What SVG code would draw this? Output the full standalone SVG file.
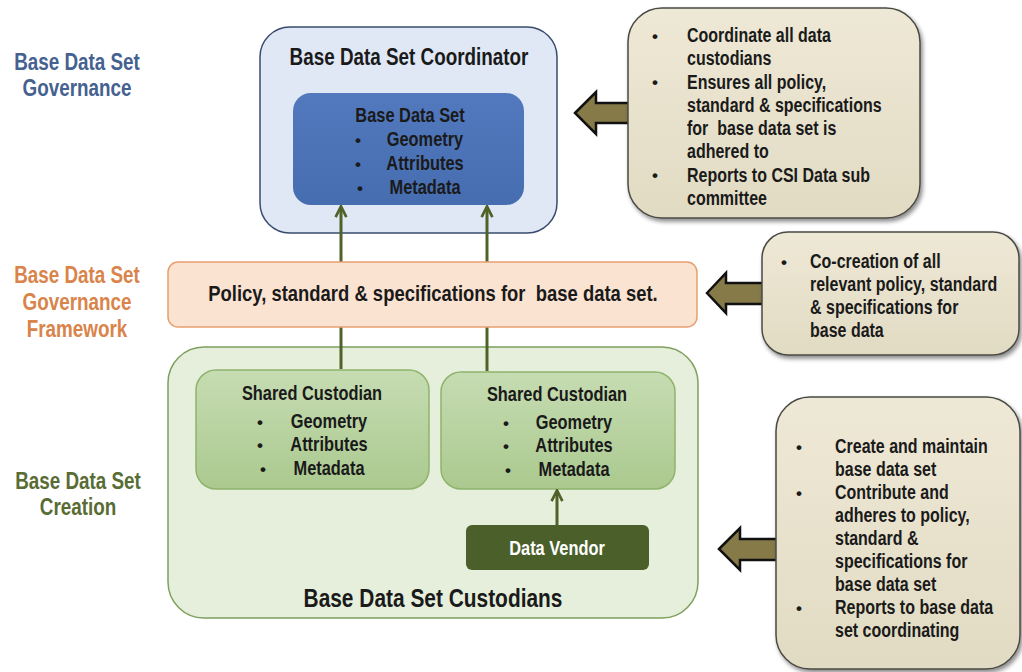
<svg xmlns="http://www.w3.org/2000/svg" width="1022" height="672" viewBox="0 0 1022 672">
<defs>
<style>
text{font-family:"Liberation Sans",Arial,sans-serif;font-weight:bold;fill:#1a1a1a}
.c{text-anchor:middle}
.f23{font-size:23px}
.f20{font-size:20px}
.f19{font-size:19.5px}
.bul{font-size:17px}
.cw{fill:#ffffff}
.gov{fill:#44618f}
.fw{fill:#d9844a}
.cre{fill:#586c34}
.conn{stroke:#4f6228;stroke-width:3;fill:none}
.blk{fill:#857a48;stroke:#111;stroke-width:2.5;stroke-linejoin:miter}
.call{fill:url(#gBeige);stroke:#4a4a44;stroke-width:1.5}
</style>
<linearGradient id="gBeige" x1="0" y1="0" x2="0" y2="1">
<stop offset="0" stop-color="#eee8d6"/>
<stop offset="1" stop-color="#e2dbc3"/>
</linearGradient>
<linearGradient id="gGreen" x1="0" y1="0" x2="0" y2="1">
<stop offset="0" stop-color="#c6dcb2"/>
<stop offset="1" stop-color="#abc98f"/>
</linearGradient>
<linearGradient id="gBlue" x1="0" y1="0" x2="0" y2="1">
<stop offset="0" stop-color="#5279bd"/>
<stop offset="1" stop-color="#466db0"/>
</linearGradient>
<filter id="sh" x="-10%" y="-10%" width="130%" height="130%">
<feDropShadow dx="2" dy="3" stdDeviation="2" flood-color="#000" flood-opacity="0.45"/>
</filter>
<marker id="ah" viewBox="0 0 10 10" refX="8.5" refY="5" markerWidth="4.5" markerHeight="4.5" orient="auto" markerUnits="strokeWidth">
<path d="M1,1 L9,5 L1,9" fill="none" stroke="#4f6228" stroke-width="2"/>
</marker>
</defs>

<g id="labels">
<text class="c f23 gov" transform="translate(77,70) scale(0.82,1)"><tspan x="0" y="0">Base Data Set</tspan><tspan x="0" y="26">Governance</tspan></text>
<text class="c f23 fw" transform="translate(77,283) scale(0.82,1)"><tspan x="0" y="0">Base Data Set</tspan><tspan x="0" y="27">Governance</tspan><tspan x="0" y="54">Framework</tspan></text>
<text class="c f23 cre" transform="translate(78,489) scale(0.82,1)"><tspan x="0" y="0">Base Data Set</tspan><tspan x="0" y="26">Creation</tspan></text>
</g>

<g id="coordinator">
<rect x="260" y="27" width="297" height="206" rx="30" fill="#e0e8f6" stroke="#394c6e" stroke-width="1.5"/>
<text class="c f23" transform="translate(409,65) scale(0.82,1)">Base Data Set Coordinator</text>
</g>
<g id="base-data-set">
<rect x="293" y="93" width="231" height="112" rx="18" fill="url(#gBlue)"/>
<text class="c f20" transform="translate(410,122) scale(0.82,1)">Base Data Set</text>
<text class="bul" x="355" y="146">•</text>
<text class="bul" x="355" y="170">•</text>
<text class="bul" x="357" y="194">•</text>
<text class="c f20" transform="translate(425,146) scale(0.82,1)"><tspan x="0" y="0">Geometry</tspan><tspan x="0" y="24">Attributes</tspan><tspan x="0" y="48">Metadata</tspan></text>
</g>

<g id="custodians">
<rect x="168" y="347" width="530" height="271" rx="36" fill="#e5efdc" stroke="#7ea05c" stroke-width="1.5"/>
<text class="c" style="font-size:25.5px" transform="translate(433,607) scale(0.82,1)">Base Data Set Custodians</text>
</g>
<g id="shared-custodian-1">
<rect x="196" y="370" width="233" height="119" rx="20" fill="url(#gGreen)" stroke="#8fb46c" stroke-width="1.5"/>
<text class="c f20" transform="translate(312,400) scale(0.82,1)">Shared Custodian</text>
<text class="bul" x="257" y="428">•</text>
<text class="bul" x="257" y="451">•</text>
<text class="bul" x="260" y="475">•</text>
<text class="c f20" transform="translate(329,428) scale(0.82,1)"><tspan x="0" y="0">Geometry</tspan><tspan x="0" y="23.5">Attributes</tspan><tspan x="0" y="47">Metadata</tspan></text>
</g>
<g id="shared-custodian-2">
<rect x="441" y="372" width="234" height="117" rx="20" fill="url(#gGreen)" stroke="#8fb46c" stroke-width="1.5"/>
<text class="c f20" transform="translate(557,401) scale(0.82,1)">Shared Custodian</text>
<text class="bul" x="503" y="429">•</text>
<text class="bul" x="503" y="452">•</text>
<text class="bul" x="505" y="476">•</text>
<text class="c f20" transform="translate(574,429) scale(0.82,1)"><tspan x="0" y="0">Geometry</tspan><tspan x="0" y="23.5">Attributes</tspan><tspan x="0" y="47">Metadata</tspan></text>
</g>
<g id="data-vendor">
<rect x="466" y="525" width="183" height="45" rx="6" fill="#4b5f2b"/>
<text class="c f20 cw" transform="translate(557,555) scale(0.82,1)">Data Vendor</text>
</g>

<g id="connectors">
<line class="conn" x1="341" y1="369" x2="341" y2="207" marker-end="url(#ah)"/>
<line class="conn" x1="487" y1="371" x2="487" y2="207" marker-end="url(#ah)"/>
<line class="conn" x1="557" y1="525" x2="557" y2="491" marker-end="url(#ah)"/>
<polygon class="blk" points="575,113 596,92 596,103 632,103 632,123 596,123 596,134"/>
<polygon class="blk" points="707,293 726,273 726,283 766,283 766,304 726,304 726,313"/>
<polygon class="blk" points="719,549 740,528 740,539 780,539 780,560 740,560 740,570"/>
</g>

<g id="policy">
<rect x="168" y="262" width="529" height="65" rx="10" fill="#fbe3d2" stroke="#e6a070" stroke-width="1.5"/>
<text class="c" style="font-size:22.5px;white-space:pre" transform="translate(433,301) scale(0.82,1)">Policy, standard &amp; specifications for  base data set.</text>
</g>

<g id="callout-governance">
<rect class="call" x="628" y="8" width="292" height="210" rx="34" filter="url(#sh)"/>
<text class="bul" x="652" y="42">•</text>
<text class="bul" x="652" y="88">•</text>
<text class="bul" x="652" y="181">•</text>
<text class="f19" transform="translate(687,42) scale(0.82,1)"><tspan x="0" y="0">Coordinate all data</tspan><tspan x="0" y="23.3">custodians</tspan><tspan x="0" y="46.6">Ensures all policy,</tspan><tspan x="0" y="69.9">standard &amp; specifications</tspan><tspan x="0" y="93.2" style="white-space:pre">for  base data set is</tspan><tspan x="0" y="116.5">adhered to</tspan><tspan x="0" y="139.8">Reports to CSI Data sub</tspan><tspan x="0" y="163.1">committee</tspan></text>
</g>

<g id="callout-framework">
<rect class="call" x="762" y="232" width="257" height="123" rx="26" filter="url(#sh)"/>
<text class="bul" x="781" y="268">•</text>
<text class="f19" transform="translate(810,268) scale(0.82,1)"><tspan x="0" y="0">Co-creation of all</tspan><tspan x="0" y="23">relevant policy, standard</tspan><tspan x="0" y="46">&amp; specifications for</tspan><tspan x="0" y="69">base data</tspan></text>
</g>

<g id="callout-creation">
<rect class="call" x="776" y="397" width="244" height="272" rx="34" filter="url(#sh)"/>
<text class="bul" x="796" y="453">•</text>
<text class="bul" x="796" y="499">•</text>
<text class="bul" x="796" y="614">•</text>
<text class="f19" transform="translate(835,453) scale(0.82,1)"><tspan x="0" y="0">Create and maintain</tspan><tspan x="0" y="23">base data set</tspan><tspan x="0" y="46">Contribute and</tspan><tspan x="0" y="69">adheres to policy,</tspan><tspan x="0" y="92">standard &amp;</tspan><tspan x="0" y="115">specifications for</tspan><tspan x="0" y="138">base data set</tspan><tspan x="0" y="161">Reports to base data</tspan><tspan x="0" y="184">set coordinating</tspan></text>
</g>
</svg>
